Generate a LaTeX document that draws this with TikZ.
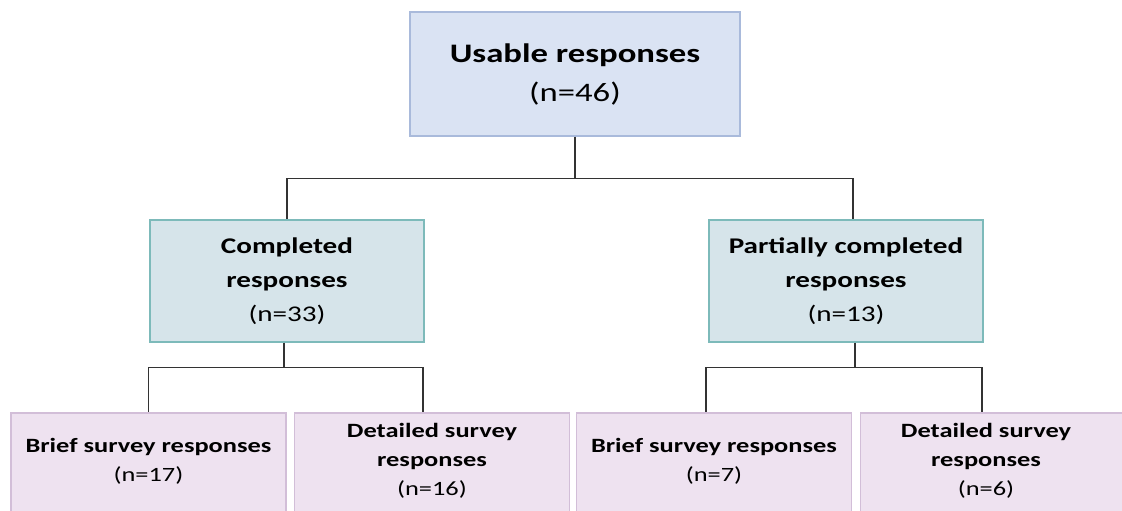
\documentclass[tikz,border=0pt]{standalone}
\usepackage{fontspec}
\setmainfont{Carlito}[FakeStretch=1.3]
\definecolor{topfill}{HTML}{DAE3F3}
\definecolor{topline}{HTML}{A9BADB}
\definecolor{midfill}{HTML}{D6E4EA}
\definecolor{midline}{HTML}{7DBABA}
\definecolor{botfill}{HTML}{EEE2F0}
\definecolor{botline}{HTML}{D2BED8}
\definecolor{connc}{HTML}{333333}
\tikzset{
  box/.style={draw, line width=1.2pt, align=center, inner sep=0pt},
  topbox/.style={box, fill=topfill, draw=topline, minimum width=330pt, minimum height=124pt, font=\fontsize{26.7}{39}\selectfont},
  midbox/.style={box, fill=midfill, draw=midline, minimum width=274pt, minimum height=122pt, font=\fontsize{22.4}{34}\selectfont},
  botbox/.style={box, fill=botfill, draw=botline, minimum width=275pt, minimum height=114pt},
  bottext/.style={align=center, inner sep=0pt, font=\fontsize{20.3}{29}\selectfont},
  conn/.style={draw=connc, line width=1.7pt}
}
\begin{document}
\begin{tikzpicture}[x=1pt,y=-1pt]
\useasboundingbox (0,0) rectangle (1122,511);
\node[topbox] (top) at (575,74) {\textbf{Usable responses}\\(n=46)};
\node[midbox] (midL) at (287,281) {\textbf{Completed}\\\textbf{responses}\\(n=33)};
\node[midbox] (midR) at (846,281) {\textbf{Partially completed}\\\textbf{responses}\\(n=13)};
\node[botbox] (bLL) at (148.5,470) {};
\node[botbox] (bLR) at (432,470) {};
\node[botbox] (bRL) at (714,470) {};
\node[botbox] (bRR) at (998,470) {};
\node[bottext] (tLL) at ([yshift=9pt]bLL.center) {\textbf{Brief survey responses}\\(n=17)};
\node[bottext] (tLR) at ([yshift=9pt]bLR.center) {\textbf{Detailed survey}\\\textbf{responses}\\(n=16)};
\node[bottext] (tRL) at ([yshift=9pt]bRL.center) {\textbf{Brief survey responses}\\(n=7)};
\node[bottext] (tRR) at ([yshift=9pt,xshift=-12pt]bRR.center) {\textbf{Detailed survey}\\\textbf{responses}\\(n=6)};
\draw[conn] (top.south) -- ++(0,42) coordinate (jt) -| (midL.north);
\draw[conn] (jt) -| ([xshift=7pt]midR.north);
\draw[conn] ([xshift=-3pt]midL.south) -- ++(0,25) coordinate (jl) -| (bLL.north);
\draw[conn] (jl) -| ([xshift=-9pt]bLR.north);
\draw[conn] ([xshift=9pt]midR.south) -- ++(0,25) coordinate (jr) -| ([xshift=-8pt]bRL.north);
\draw[conn] (jr) -| ([xshift=-16pt]bRR.north);
\end{tikzpicture}
\end{document}
